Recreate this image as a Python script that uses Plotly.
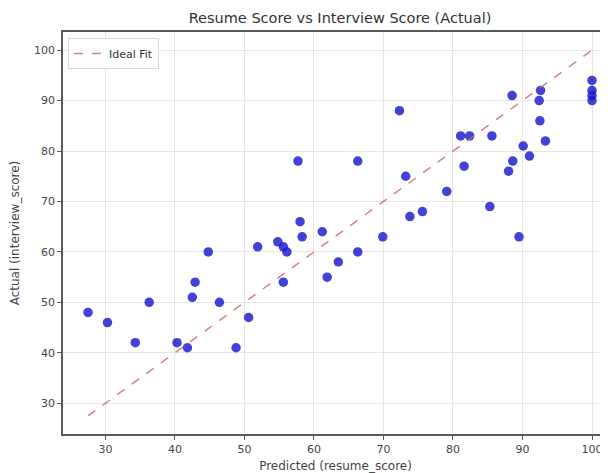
import plotly.graph_objects as go

predicted = [27.5, 30.3, 34.3, 36.3, 40.3, 41.8, 42.5, 42.9, 44.8, 46.4,
             48.8, 50.6, 51.9, 54.8, 55.6, 56.1, 55.6, 57.7, 58.0, 58.3,
             61.2, 61.9, 63.5, 66.3, 66.3, 69.9, 72.3, 73.2, 73.8, 75.6,
             79.1, 81.1, 82.4, 85.6, 81.6, 85.3, 88.5, 88.0, 88.6, 89.5,
             90.1, 91.0, 92.4, 92.6, 92.5, 93.3, 100.0, 100.0, 100.0, 100.0]
actual = [48, 46, 42, 50, 42, 41, 51, 54, 60, 50,
          41, 47, 61, 62, 61, 60, 54, 78, 66, 63,
          64, 55, 58, 60, 78, 63, 88, 75, 67, 68,
          72, 83, 83, 83, 77, 69, 91, 76, 78, 63,
          81, 79, 90, 92, 86, 82, 94, 92, 91, 90]

x_ticks = [30, 40, 50, 60, 70, 80, 90, 100]
y_ticks = [30, 40, 50, 60, 70, 80, 90, 100]

lo = min(min(predicted), min(actual))
hi = max(max(predicted), max(actual))

fig = go.Figure()
fig.add_trace(go.Scatter(
    x=predicted, y=actual, mode="markers", showlegend=False,
    marker=dict(size=9.5, color="rgba(25,25,205,0.82)", line=dict(width=0)),
))
fig.add_trace(go.Scatter(
    x=[lo, hi], y=[lo, hi], mode="lines", name="Ideal Fit",
    line=dict(color="rgba(200,110,100,0.85)", width=1.5, dash="dash"),
))

font = "DejaVu Sans"
axis_common = dict(
    showgrid=True, gridcolor="#e6e6e6", gridwidth=1, automargin=False,
    zeroline=False, showline=True, linecolor="#5a5a5a", linewidth=1.5,
    ticks="outside", ticklen=4, tickcolor="#5a5a5a", tickwidth=1,
    tickfont=dict(family=font, size=11, color="#444"),
)

W, H = 600, 465
fig.update_layout(
    width=W, height=H,
    margin=dict(l=55, r=0, t=24, b=39),
    paper_bgcolor="white", plot_bgcolor="white",
    title=dict(text="Resume Score vs Interview Score (Actual)",
               font=dict(family=font, size=14.5, color="#333"),
               x=332 / W, xanchor="center", y=1 - 10 / H, yanchor="middle"),
    xaxis=dict(range=[23.9, 102.3], tickvals=x_ticks, mirror=True,
               title=dict(text="Predicted (resume_score)",
                          font=dict(family=font, size=12, color="#444")),
               **axis_common),
    yaxis=dict(range=[23.9, 103.6], tickvals=y_ticks,
               title=dict(text="Actual (interview_score)",
                          font=dict(family=font, size=12, color="#444")),
               **axis_common),
    legend=dict(x=0.009, y=0.985, xanchor="left", yanchor="top",
                bgcolor="rgba(255,255,255,0.9)", bordercolor="#d8d8d8", borderwidth=1,
                font=dict(family=font, size=11, color="#333"), itemwidth=30),
)

fig.write_html("out.html")
